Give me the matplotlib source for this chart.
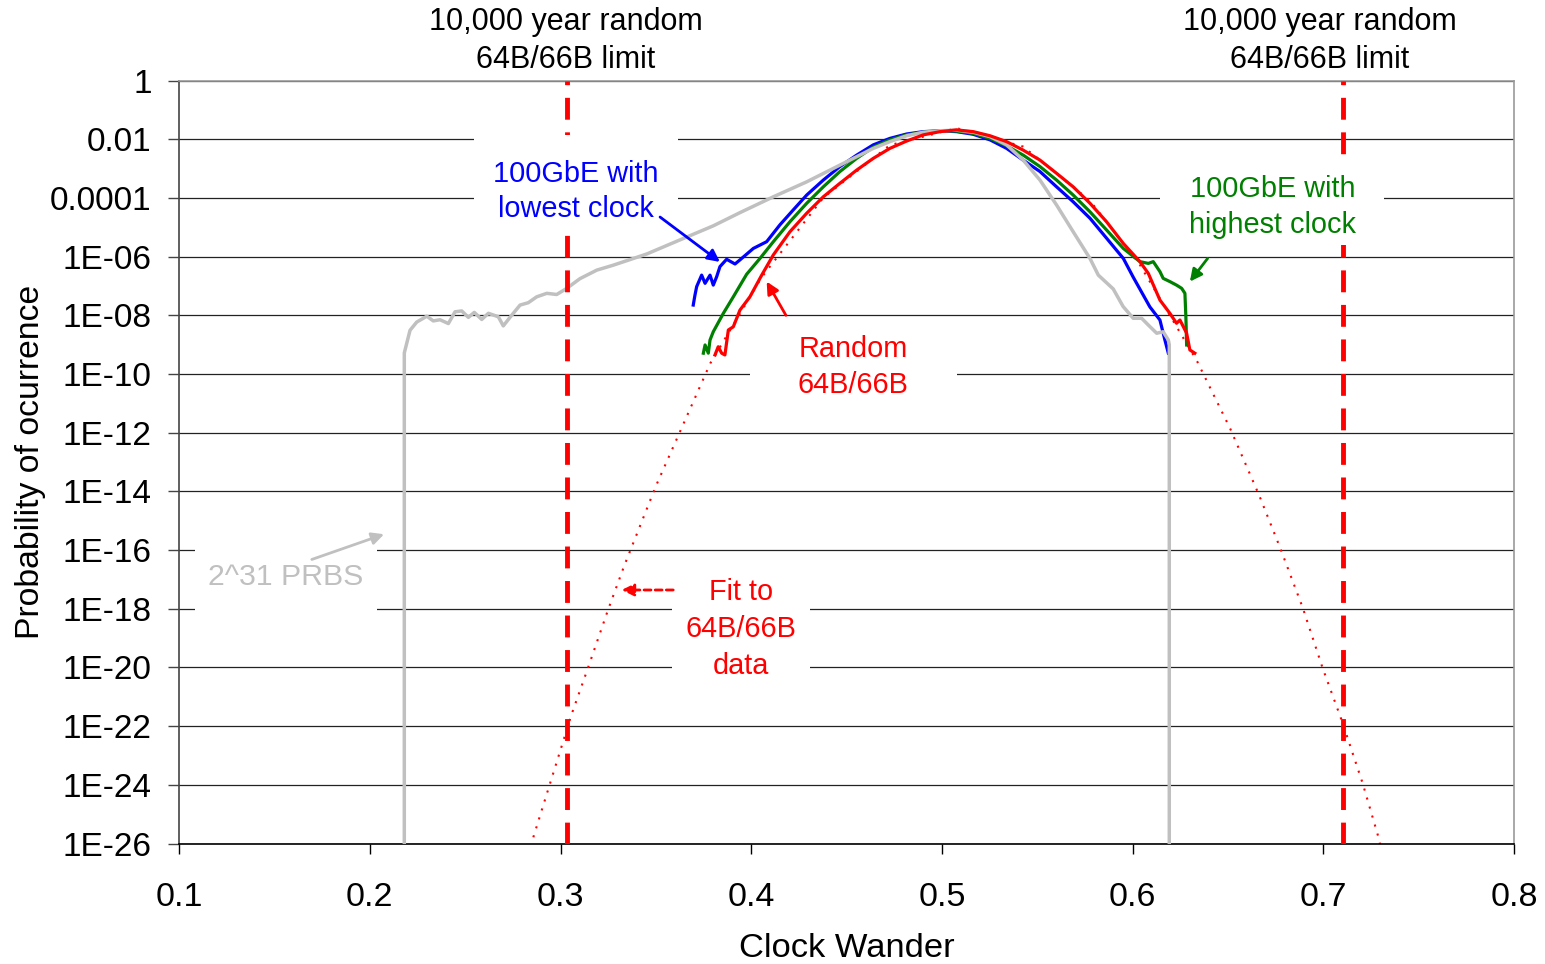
import numpy as np
import matplotlib.pyplot as plt
from matplotlib.patches import Rectangle

plt.rcParams['font.family'] = ['Liberation Sans', 'DejaVu Sans']

# clock wander histograms, probabilities kept as log10 values
prbs_x = [0.2181, 0.2181, 0.2211, 0.2246, 0.2299, 0.2333, 0.2368, 0.2412, 0.2447, 0.2482,
          0.2517, 0.2548, 0.2587, 0.2622, 0.2674, 0.2700, 0.2735, 0.2788, 0.2831, 0.2875,
          0.2928, 0.2980, 0.3033, 0.3102, 0.3190, 0.3277, 0.3452, 0.3626, 0.3801, 0.3941,
          0.4116, 0.4291, 0.4465, 0.4640, 0.4727, 0.4815, 0.4902, 0.4990, 0.5077, 0.5164,
          0.5252, 0.5339, 0.5426, 0.5514, 0.5601, 0.5688, 0.5776, 0.5820, 0.5898, 0.5950,
          0.6003, 0.6047, 0.6082, 0.6126, 0.6160, 0.6187, 0.6192, 0.6192]
prbs_log = [-26, -9.28, -8.51, -8.23, -8.03, -8.19, -8.15, -8.28, -7.88, -7.85,
            -8.07, -7.90, -8.14, -7.93, -8.05, -8.36, -8.07, -7.65, -7.57, -7.37,
            -7.25, -7.29, -7.08, -6.75, -6.46, -6.29, -5.91, -5.43, -4.95, -4.50,
            -3.96, -3.45, -2.88, -2.31, -2.08, -1.88, -1.76, -1.71, -1.69, -1.76,
            -1.91, -2.19, -2.71, -3.39, -4.24, -5.15, -6.06, -6.63, -7.10, -7.70,
            -8.10, -8.10, -8.33, -8.61, -8.56, -8.84, -9.00, -26]

low_x = [0.3696, 0.3705, 0.3714, 0.3740, 0.3758, 0.3784, 0.3801, 0.3819, 0.3836, 0.3871,
         0.3915, 0.3941, 0.4011, 0.4081, 0.4150, 0.4220, 0.4291, 0.4378, 0.4465, 0.4553,
         0.4640, 0.4727, 0.4815, 0.4902, 0.4990, 0.5077, 0.5164, 0.5252, 0.5339, 0.5426,
         0.5514, 0.5601, 0.5688, 0.5776, 0.5863, 0.5951, 0.6003, 0.6090, 0.6143, 0.6169,
         0.6187]
low_log = [-7.65, -7.31, -7.02, -6.63, -6.91, -6.63, -6.97, -6.68, -6.34, -6.09,
           -6.25, -6.11, -5.72, -5.49, -4.92, -4.41, -3.90, -3.39, -2.93, -2.54,
           -2.19, -1.97, -1.82, -1.74, -1.71, -1.74, -1.83, -2.02, -2.31, -2.71,
           -3.10, -3.62, -4.13, -4.69, -5.37, -6.06, -6.70, -7.71, -8.16, -8.84,
           -9.29]

high_x = [0.3749, 0.3758, 0.3775, 0.3784, 0.3801, 0.3854, 0.3906, 0.3976, 0.4046, 0.4116,
          0.4203, 0.4291, 0.4378, 0.4465, 0.4553, 0.4640, 0.4727, 0.4815, 0.4902, 0.4990,
          0.5077, 0.5164, 0.5252, 0.5339, 0.5426, 0.5514, 0.5601, 0.5688, 0.5776, 0.5863,
          0.5951, 0.6038, 0.6082, 0.6108, 0.6143, 0.6160, 0.6195, 0.6230, 0.6257, 0.6274,
          0.6279, 0.6283]
high_log = [-9.29, -9.01, -9.29, -8.84, -8.56, -7.93, -7.37, -6.60, -6.06, -5.49,
            -4.81, -4.18, -3.62, -3.10, -2.65, -2.27, -2.02, -1.85, -1.76, -1.71,
            -1.72, -1.80, -1.97, -2.22, -2.54, -2.93, -3.39, -3.90, -4.47, -5.09,
            -5.72, -6.17, -6.23, -6.17, -6.51, -6.74, -6.85, -6.97, -7.08, -7.25,
            -8.05, -9.01]

rand_x = [0.3810, 0.3827, 0.3845, 0.3862, 0.3880, 0.3906, 0.3941, 0.3993, 0.4055, 0.4116,
          0.4203, 0.4291, 0.4378, 0.4465, 0.4553, 0.4640, 0.4727, 0.4815, 0.4902, 0.4990,
          0.5077, 0.5164, 0.5252, 0.5339, 0.5426, 0.5514, 0.5601, 0.5688, 0.5776, 0.5863,
          0.5951, 0.6038, 0.6082, 0.6143, 0.6195, 0.6230, 0.6248, 0.6283, 0.6300, 0.6326]
rand_log = [-9.35, -9.07, -9.29, -9.35, -8.50, -8.39, -7.82, -7.37, -6.63, -5.94,
            -5.15, -4.52, -3.96, -3.50, -3.05, -2.65, -2.31, -2.06, -1.85, -1.74,
            -1.68, -1.74, -1.88, -2.08, -2.37, -2.71, -3.16, -3.62, -4.18, -4.81,
            -5.55, -6.17, -6.57, -7.48, -7.93, -8.27, -8.16, -8.61, -9.18, -9.29]

# gaussian fit to the 64B/66B data
fit_x = [0.2847, 0.2855, 0.2942, 0.3058, 0.3145, 0.3248, 0.3335, 0.3500, 0.3785, 0.4055,
         0.4378, 0.4727, 0.5077, 0.5426, 0.5776, 0.6038, 0.6339, 0.6512, 0.6665, 0.6773,
         0.6892, 0.6996, 0.7098, 0.7206, 0.7288, 0.7300]
fit_log = [-26.1, -25.84, -24.02, -21.60, -20.00, -18.06, -16.52, -13.82, -9.64, -6.70,
           -3.99, -2.20, -1.62, -2.25, -4.09, -6.28, -9.58, -11.87, -14.16, -15.92,
           -17.97, -20.02, -21.84, -23.95, -25.77, -26.10]

limit_x = [0.3034, 0.7101]

x_ticks = [0.1, 0.2, 0.3, 0.4, 0.5, 0.6, 0.7, 0.8]
y_exps = list(range(0, -27, -2))
y_labels = ['1', '0.01', '0.0001'] + ['1E-%02d' % -e for e in y_exps[3:]]

RED = '#FF0000'
BLUE = '#0000FF'
GREEN = '#008000'
GREY = '#C0C0C0'

fig = plt.figure(figsize=(15.45, 9.64), dpi=100)
ax = fig.add_axes([0.1159, 0.125, 0.8641, 0.7914])


def p(vals):
    return 10.0 ** np.asarray(vals, dtype=float)


ax.plot(fit_x, p(fit_log), color=RED, lw=1.5, ls=(0, (1, 3.5)), zorder=2)
ax.plot(low_x, p(low_log), color=BLUE, lw=2.3, zorder=3)
ax.plot(high_x, p(high_log), color=GREEN, lw=2.3, zorder=4)
ax.plot(prbs_x, p(prbs_log), color=GREY, lw=2.5, zorder=5)
ax.plot(rand_x, p(rand_log), color=RED, lw=2.3, zorder=6)

for lx in limit_x:
    ax.axvline(lx, color=RED, lw=3.5, dashes=(4.5, 2.6), zorder=7)

ax.set_yscale('log')
ax.set_xlim(0.1, 0.8)
ax.set_ylim(1e-26, 1)
ax.set_yticks([10.0 ** e for e in y_exps])
ax.set_yticklabels(y_labels)
ax.yaxis.set_minor_locator(plt.NullLocator())
ax.set_xticks(x_ticks)
ax.set_xticklabels(['%.1f' % v for v in x_ticks])

ax.grid(True, axis='y', color='#222222', lw=0.9)
ax.set_axisbelow(True)

ax.spines['left'].set_color('#444444')
ax.spines['bottom'].set_color('black')
ax.spines['top'].set_color('#999999')
ax.spines['right'].set_color('#999999')
for s in ax.spines.values():
    s.set_linewidth(1.2)
ax.tick_params(axis='y', direction='out', length=7.7, width=1, color='#444444',
               labelsize=24, pad=12)
ax.tick_params(axis='x', direction='out', length=7.5, width=1, color='black',
               labelsize=24.5, pad=20)

ax.set_xlabel('Clock Wander', fontsize=24.8, va='center')
ax.xaxis.set_label_coords(0.5, -0.137)
ax.set_ylabel('Probability of ocurrence', fontsize=24.3, va='center')
ax.yaxis.set_label_coords(-0.1116, 0.5)

# white label boxes that break the gridlines
boxes = [
    (0.2547, 0.3616, -1.85, -5.19),
    (0.6143, 0.7317, -2.71, -5.60),
    (0.3993, 0.5079, -8.44, -10.89),
    (0.3585, 0.4308, -16.53, -20.77),
    (0.1084, 0.2038, -15.66, -18.22),
]
for x0, x1, top, bot in boxes:
    ax.add_patch(Rectangle((x0, 10.0 ** bot), x1 - x0, 10.0 ** top - 10.0 ** bot,
                           facecolor='white', edgecolor='none', zorder=8))

lab = dict(fontsize=20.8, ha='center', va='center', linespacing=1.36, zorder=9)
ax.text(0.3081, 10 ** -3.78, '100GbE with\nlowest clock', color=BLUE, **lab)
ax.text(0.6735, 10 ** -4.31, '100GbE with\nhighest clock', color=GREEN, **lab)
ax.text(0.4533, 10 ** -9.76, 'Random\n64B/66B', color=RED, **lab)
ax.text(0.3946, 10 ** -18.70, 'Fit to\n64B/66B\ndata', color=RED,
        **{**lab, 'linespacing': 1.4})
ax.text(0.1561, 10 ** -16.92, '2^31 PRBS', color=GREY,
        **{**lab, 'fontsize': 21.8})


def arrow(x0, l0, x1, l1, color, ls='-'):
    ax.annotate('', xy=(x1, 10.0 ** l1), xytext=(x0, 10.0 ** l0),
                arrowprops=dict(arrowstyle='-|>', color=color, lw=2, ls=ls,
                                mutation_scale=18, shrinkA=0, shrinkB=0),
                zorder=10)


arrow(0.3522, -4.65, 0.3836, -6.18, BLUE)
arrow(0.6393, -6.06, 0.6300, -6.85, GREEN)
arrow(0.4182, -8.00, 0.4081, -6.85, RED)
arrow(0.3591, -17.36, 0.3321, -17.36, RED, ls=(0, (2.5, 1.5)))
arrow(0.1696, -16.32, 0.2075, -15.46, GREY)

# limit captions above the plot
hdr = dict(fontsize=22, ha='center', va='center', linespacing=1.36,
           transform=ax.get_xaxis_transform(), clip_on=False)
ax.text(0.3029, 1.0519, '10,000 year random\n64B/66B limit', **hdr)
ax.text(0.6982, 1.0519, '10,000 year random\n64B/66B limit', **hdr)

fig.savefig('out.png', dpi=100, facecolor='white')
